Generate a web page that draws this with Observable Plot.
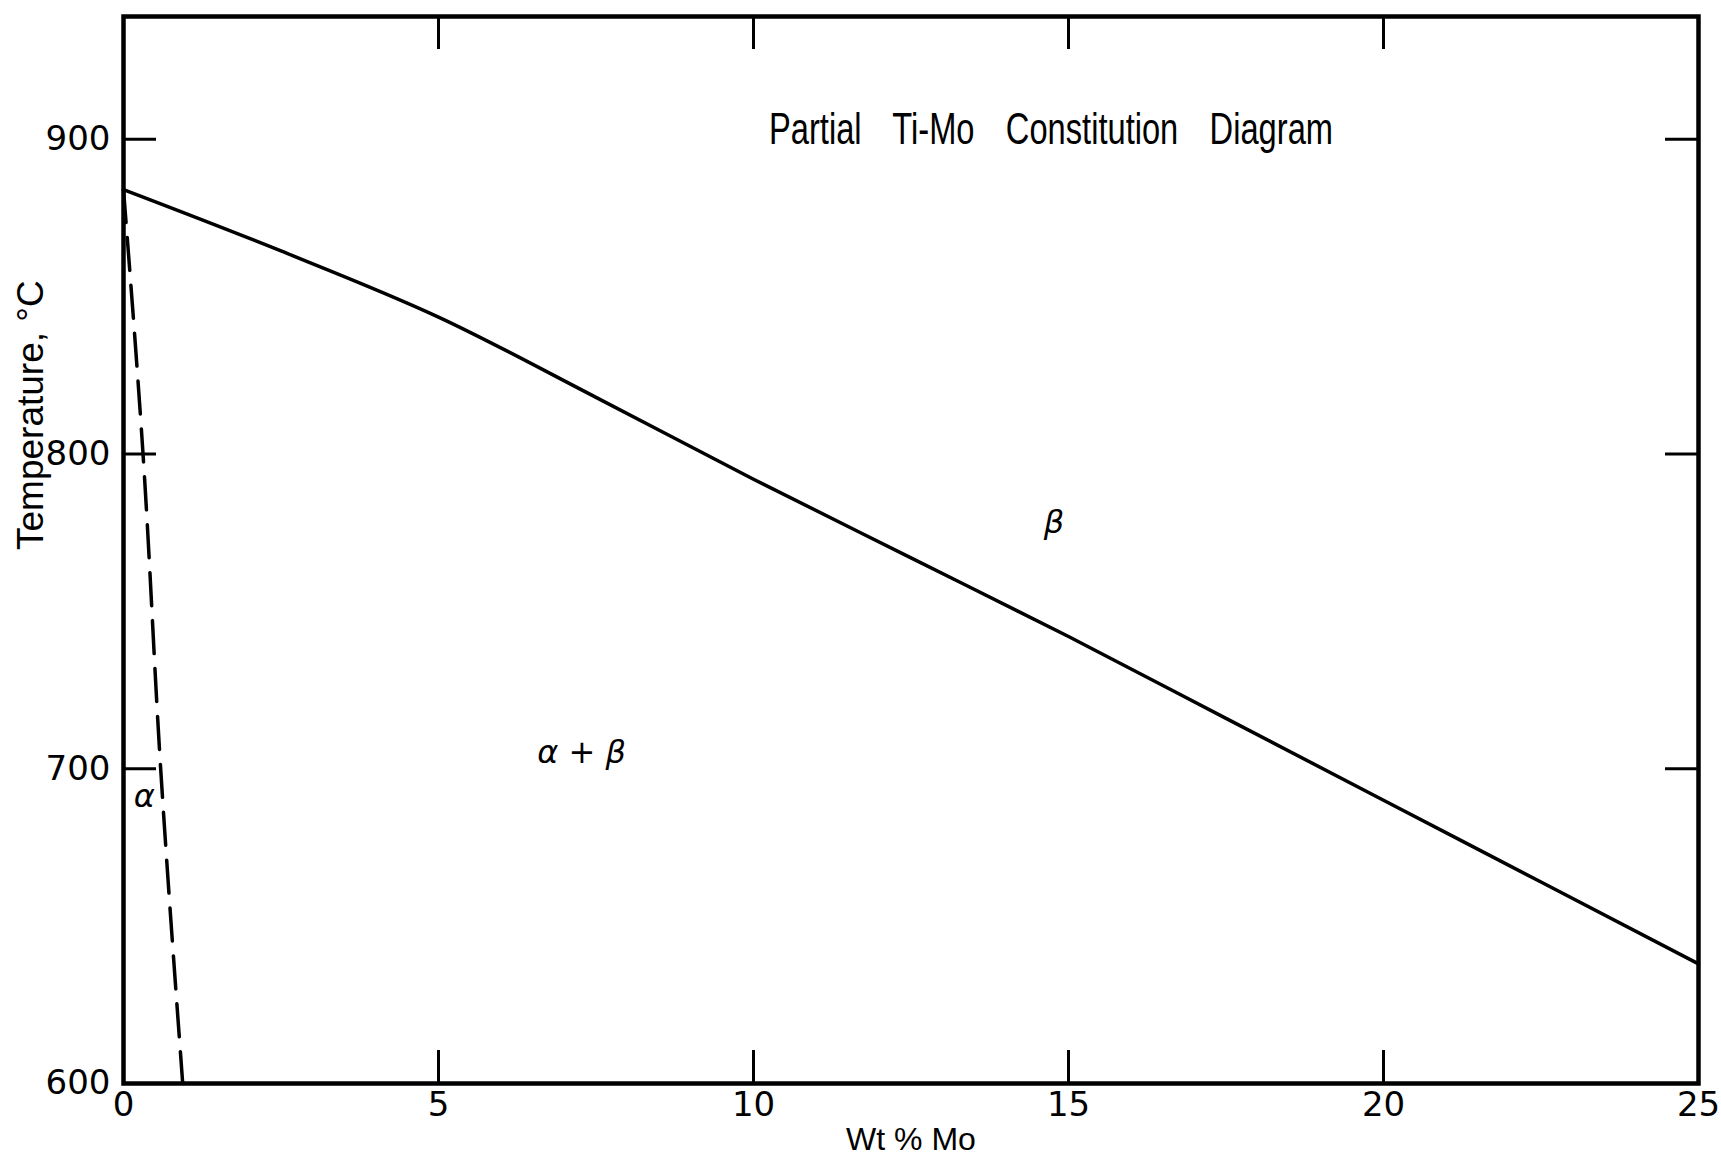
<!DOCTYPE html>
<html><head><meta charset="utf-8">
<script src="https://cdn.jsdelivr.net/npm/d3@7"></script>
<script src="https://cdn.jsdelivr.net/npm/@observablehq/plot@0.6"></script>
<style>html,body{margin:0;padding:0;background:#fff;} svg{display:block;} svg text{white-space:pre;}</style>
</head><body><div id="chart"></div>
<script>
const titleText = "Partial Ti-Mo Constitution Diagram";
const xLabel = "Wt % Mo";
const yLabel = "Temperature, °C";
const xTicks = [0, 5, 10, 15, 20, 25];
const yTicks = [600, 700, 800, 900];
const innerXTicks = [5, 10, 15, 20];
const innerYTicks = [700, 800, 900];
const betaTransusMo = [0, 2.5, 5, 7.5, 10, 12.5, 15, 17.5, 20, 22.5, 25];
const betaTransusT = [884, 864.5, 843.5, 818, 792, 767, 742, 716, 690, 664, 638];
const alphaSolvusMo = [0, 0.31, 0.59, 0.94];
const alphaSolvusT = [884, 800, 700, 600];
const phaseLabels = ["α", "α + β", "β"];
const phaseMo = [0.33, 7.27, 14.77];
const phaseT = [691, 705, 778];

const W = 1721, H = 1156;
const mL = 123, mR = 23, mT = 16, mB = 73;
const frameW = W - mL - mR, frameH = H - mT - mB;
const tickLen = 33;

const beta = betaTransusMo.map((m, i) => ({mo: m, t: betaTransusT[i]}));
const alpha = alphaSolvusMo.map((m, i) => ({mo: m, t: alphaSolvusT[i]}));
const phases = phaseLabels.map((l, i) => ({label: l, mo: phaseMo[i], t: phaseT[i]}));

const chart = Plot.plot({
  width: W, height: H,
  marginLeft: mL, marginRight: mR, marginTop: mT, marginBottom: mB,
  style: {background: "white", color: "black"},
  x: {domain: [0, 25], label: null},
  y: {domain: [600, 939], label: null},
  marks: [
    Plot.line(beta, {x: "mo", y: "t", stroke: "black", strokeWidth: 3.5, curve: "monotone-x"}),
    Plot.line(alpha, {x: "mo", y: "t", stroke: "black", strokeWidth: 3.5, strokeDasharray: "33,15", curve: "monotone-y"}),
    Plot.ruleX(innerXTicks, {x: d => d, insetTop: frameH - tickLen, strokeWidth: 3, stroke: "black"}),
    Plot.ruleX(innerXTicks, {x: d => d, insetBottom: frameH - tickLen, strokeWidth: 3, stroke: "black"}),
    Plot.ruleY(innerYTicks, {y: d => d, insetRight: frameW - tickLen, strokeWidth: 3, stroke: "black"}),
    Plot.ruleY(innerYTicks, {y: d => d, insetLeft: frameW - tickLen, strokeWidth: 3, stroke: "black"}),
    Plot.frame({stroke: "black", strokeWidth: 4.5}),
    Plot.axisX({ticks: xTicks, tickSize: 0, tickPadding: 8, fontSize: 34, fontFamily: "DejaVu Sans", label: null}),
    Plot.axisY({ticks: yTicks, tickSize: 0, tickPadding: 13, fontSize: 34, fontFamily: "DejaVu Sans", label: null}),
    Plot.text(phases, {x: "mo", y: "t", text: "label", fontSize: 32, fontStyle: "italic", fontFamily: "DejaVu Sans", fill: "black"}),
    Plot.text([xLabel], {frameAnchor: "bottom", dy: 56, lineAnchor: "middle", fontSize: 32, fontFamily: "Liberation Sans", fill: "black"}),
    Plot.text([yLabel], {frameAnchor: "left", rotate: -90, textAnchor: "start", dx: -92, dy: 0, lineAnchor: "middle", fontSize: 37, fontFamily: "Liberation Sans", fill: "black"}),
    Plot.text([titleText], {frameAnchor: "top", dx: 140, dy: 113, lineAnchor: "middle", fontSize: 44, fontFamily: "Liberation Sans Narrow, Liberation Sans", fill: "black"})
  ]
});
document.getElementById("chart").appendChild(chart);
d3.select(chart).selectAll("text").filter(function() { return this.textContent === titleText; })
  .style("word-spacing", "30px")
  .attr("textLength", 564).attr("lengthAdjust", "spacingAndGlyphs");
</script>
</body></html>
